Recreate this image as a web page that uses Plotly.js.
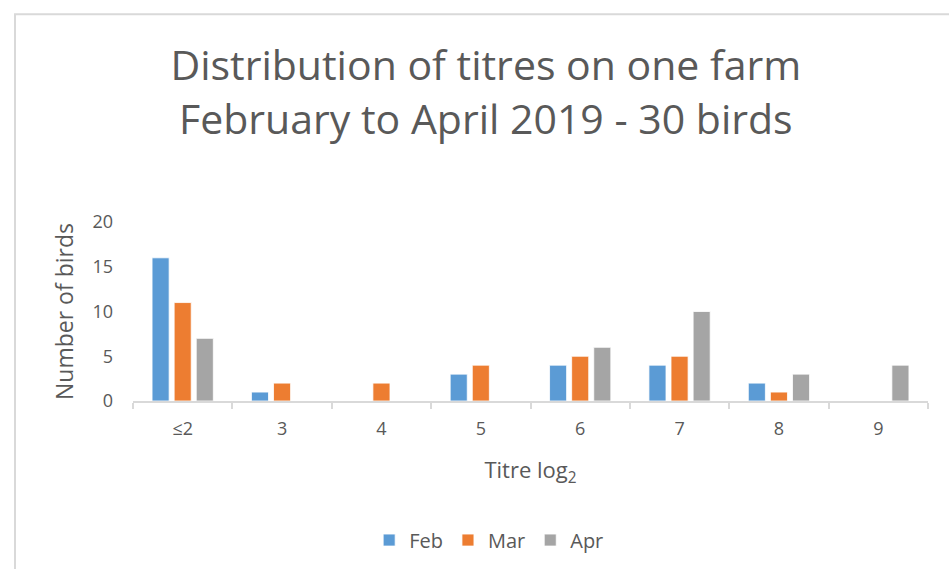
<!DOCTYPE html>
<html>
<head>
<meta charset="utf-8">
<script src="https://cdn.plot.ly/plotly-3.0.1.min.js"></script>
<style>
html,body{margin:0;padding:0;background:#fff;}
#chart{width:949px;height:569px;}
</style>
</head>
<body>
<div id="chart"></div>
<script>
const categories = ["≤2", "3", "4", "5", "6", "7", "8", "9"];
const seriesNames = ["Feb", "Mar", "Apr"];
const feb = [16, 1, 0, 3, 4, 4, 2, 0];
const mar = [11, 2, 2, 4, 5, 5, 1, 0];
const apr = [7, 0, 0, 0, 6, 10, 3, 4];
const yTicks = [0, 5, 10, 15, 20];
const colors = ["#5B9BD5", "#ED7D31", "#A5A5A5"];

const FONT = "'Open Sans', sans-serif";
const TXT = "#595959";

const values = [feb, mar, apr];
const traces = values.map((v, i) => ({
  type: "bar",
  name: seriesNames[i],
  x: categories,
  y: v,
  marker: { color: colors[i], line: { color: "#ffffff", width: 0.8 } },
  hoverinfo: "x+y+name"
}));

const layout = {
  width: 949,
  height: 569,
  margin: { l: 133, r: 21, t: 222, b: 167 },
  paper_bgcolor: "#ffffff",
  plot_bgcolor: "#ffffff",
  font: { family: FONT, color: TXT, size: 18 },
  barmode: "group",
  bargap: 0.333,
  bargroupgap: 0.227,
  title: {
    text: "Distribution of titres on one farm<br>February to April 2019 - 30 birds",
    font: { family: FONT, size: 41, color: TXT },
    xref: "container", x: 0.512, xanchor: "center",
    yref: "container", y: 0.859, yanchor: "middle"
  },
  xaxis: {
    type: "category",
    showgrid: false,
    showline: true, linecolor: "#d9d9d9", linewidth: 2,
    ticks: "outside", tickson: "boundaries", ticklen: 6, tickcolor: "#d9d9d9", tickwidth: 2,
    tickfont: { family: FONT, size: 18, color: TXT },
    ticklabelstandoff: 10,
    zeroline: false,
    title: { text: "Titre log<sub>2</sub>", font: { family: FONT, size: 22, color: TXT }, standoff: 24 }
  },
  yaxis: {
    range: [0, 20],
    tickvals: yTicks,
    showgrid: false, zeroline: false, showline: false,
    ticks: "",
    tickfont: { family: FONT, size: 18, color: TXT },
    ticklabelstandoff: 19,
    title: { text: "Number of birds", font: { family: FONT, size: 23, color: TXT }, standoff: 12 }
  },
  legend: {
    orientation: "h",
    x: 0.448, xanchor: "center",
    y: -0.767, yanchor: "middle",
    font: { family: FONT, size: 20, color: TXT },
    bgcolor: "rgba(0,0,0,0)"
  },
  shapes: [{
    type: "rect", xref: "paper", yref: "paper",
    x0: -0.1484, x1: 1.3, y0: -2.0, y1: 2.161,
    line: { color: "#d9d9d9", width: 2 },
    layer: "below"
  }],
  showlegend: true
};

Plotly.newPlot("chart", traces, layout, { displayModeBar: false });
</script>
</body>
</html>
